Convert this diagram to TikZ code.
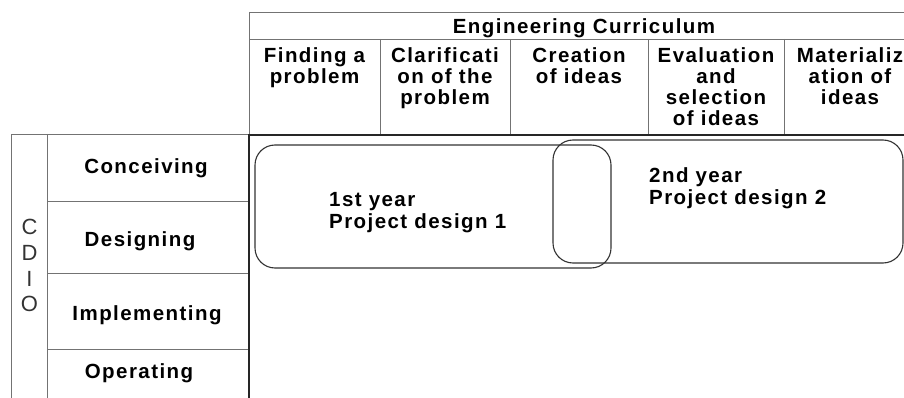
\documentclass[tikz,border=0pt]{standalone}
\usepackage{fontspec}
\setmainfont{Liberation Sans}
\newfontfamily\spaced{Liberation Sans Bold}[LetterSpace=7]
\begin{document}
\begin{tikzpicture}[x=1pt,y=-1pt,
  tbl/.style={draw=black!55, line width=0.9pt},
  mainline/.style={draw=black!85, line width=1.8pt},
  lbl/.style={font={\spaced\fontsize{20.5}{21}\selectfont}, inner sep=0pt, align=center, text=black},
  yeartxt/.style={font={\spaced\fontsize{20.5}{22.5}\selectfont}, inner sep=0pt, align=left, anchor=north west, text=black},
  cdiotxt/.style={font={\fontsize{22}{25.7}\selectfont}, inner sep=0pt, align=center, anchor=north, text=black!80},
  yearbox/.style={draw=black!80, line width=1.1pt, rounded corners=20pt, inner sep=0pt}
]
\useasboundingbox (0,0) rectangle (904,398);
\begin{scope}
\clip (0,0) rectangle (904,398);
% header table
\draw[tbl] (249,12) -- (910,12);
\draw[tbl] (249,39) -- (910,39);
\draw[tbl] (249,12) -- (249,135);
\foreach \x in {380,510,648,784} \draw[tbl] (\x,39) -- (\x,135);
% left table
\draw[tbl] (11,400) -- (11,134) -- (249,134);
\draw[tbl] (47,134) -- (47,400);
\foreach \y in {201,273,349} \draw[tbl] (47,\y) -- (249,\y);
% main area border
\draw[mainline] (249,400) -- (249,135) -- (910,135);

% header texts
\node[lbl, anchor=base] (ec) at (584,33.3) {Engineering Curriculum};
\node[lbl, anchor=north] (c1) at (314.5,47) {Finding a\\problem};
\node[lbl, anchor=north] (c2) at (445,47) {Clarificati\\on of the\\problem};
\node[lbl, anchor=north] (c3) at (579,47) {Creation\\of ideas};
\node[lbl, anchor=north] (c4) at (716,47) {Evaluation\\and\\selection\\of ideas};
\node[lbl, anchor=north] (c5) at (850,47) {Materializ\\ation of\\ideas};

% left texts
\node[lbl, anchor=base] (r1) at (146,173.5) {Conceiving};
\node[lbl, anchor=base] (r2) at (140,246.7) {Designing};
\node[lbl, anchor=base] (r3) at (147,320) {Implementing};
\node[lbl, anchor=base] (r4) at (139,378) {Operating};
\node[cdiotxt] (cdio) at (29.5,219.3) {C\\D\\I\\O};

% year boxes
\node[yearbox, minimum width=356pt, minimum height=123pt] (y1) at (433,206.5) {};
\node[yearbox, minimum width=350pt, minimum height=123pt] (y2) at (728,201.5) {};
\node[yeartxt] (t1) at (329,192) {1st year\\Project design 1};
\node[yeartxt] (t2) at (649,167) {2nd year\\Project design 2};
\end{scope}
\end{tikzpicture}
\end{document}
